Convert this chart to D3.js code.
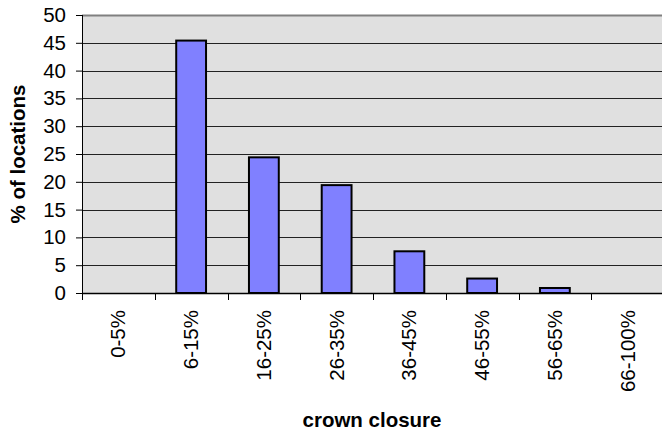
<!DOCTYPE html>
<meta charset="utf-8">
<html>
<body style="margin:0; background-color: white;">
<script src="https://d3js.org/d3.v7.min.js"></script>
<div id="chart"></div>
<script>
// data
var categories = ["0-5%", "6-15%", "16-25%", "26-35%", "36-45%", "46-55%", "56-65%", "66-100%"];
var values = [0, 45.4, 24.4, 19.4, 7.5, 2.6, 0.9, 0];
var yTicks = [0, 5, 10, 15, 20, 25, 30, 35, 40, 45, 50];

var margin = {top: 15, right: -2, bottom: 137, left: 82},
    width = 662 - margin.left - margin.right,
    height = 430 - margin.top - margin.bottom;

var font = "Liberation Sans, Arial, sans-serif";

var svg = d3.select("#chart").append("svg")
    .attr("width", 662).attr("height", 430)
    .style("font-family", font);

var g = svg.append("g")
    .attr("transform", "translate(" + margin.left + "," + margin.top + ")");

var x = d3.scaleBand().domain(categories).range([0, width]).paddingInner(0.59).paddingOuter(0.295);
var xb = d3.scaleBand().domain(categories).range([0, width]);
var y = d3.scaleLinear().domain([0, 50]).range([height, 0]);

// plot background
g.append("rect")
    .attr("width", width).attr("height", height)
    .attr("fill", "#e0e0e0");

// top border
g.append("line")
    .attr("x1", 0).attr("x2", width).attr("y1", 0.5).attr("y2", 0.5)
    .attr("stroke", "#808080").attr("stroke-width", 2);

// gridlines
g.selectAll(".grid")
    .data(yTicks.filter(function(d){ return d > 0 && d < 50; }))
    .enter().append("line")
    .attr("x1", 0).attr("x2", width)
    .attr("y1", function(d){ return Math.round(y(d)) + 0.5; })
    .attr("y2", function(d){ return Math.round(y(d)) + 0.5; })
    .attr("stroke", "#222").attr("stroke-width", 1);

// bars
g.selectAll(".bar")
    .data(values)
    .enter().append("rect")
    .attr("x", function(d, i){ return x(categories[i]); })
    .attr("width", x.bandwidth())
    .attr("y", function(d){ return y(d); })
    .attr("height", function(d){ return height - y(d); })
    .attr("fill", "#8080ff")
    .attr("stroke", "black")
    .attr("stroke-width", 2);

// y axis
var yAxis = g.append("g")
    .call(d3.axisLeft(y).tickValues(yTicks).tickSize(6).tickPadding(10));
yAxis.select(".domain").attr("stroke", "black").attr("d", "M0.5,0V" + (height + 6));
yAxis.selectAll("text").attr("font-size", "20.5px").attr("fill", "black").attr("font-family", font);
yAxis.selectAll("line").attr("stroke", "black");

// x axis line + boundary ticks
g.append("line")
    .attr("x1", 0).attr("x2", width).attr("y1", height + 0.5).attr("y2", height + 0.5)
    .attr("stroke", "black").attr("stroke-width", 1.5);
g.selectAll(".xtick")
    .data(categories)
    .enter().append("line")
    .attr("x1", function(d){ return Math.round(xb(d)) + 0.5; })
    .attr("x2", function(d){ return Math.round(xb(d)) + 0.5; })
    .attr("y1", height).attr("y2", height + 7)
    .attr("stroke", "black");

// x tick labels, rotated
g.selectAll(".xlab")
    .data(categories)
    .enter().append("text")
    .attr("transform", function(d){
        return "translate(" + (xb(d) + xb.bandwidth() / 2 + 7) + "," + (height + 17) + ") rotate(-90)";
    })
    .attr("text-anchor", "end")
    .attr("font-size", "20.5px")
    .text(function(d){ return d; });

// axis titles
svg.append("text")
    .attr("x", 372).attr("y", 427)
    .attr("text-anchor", "middle")
    .attr("font-size", "20.5px").attr("font-weight", "bold")
    .text("crown closure");

svg.append("text")
    .attr("transform", "translate(25," + (margin.top + height / 2) + ") rotate(-90)")
    .attr("text-anchor", "middle")
    .attr("font-size", "20.5px").attr("font-weight", "bold")
    .text("% of locations");
</script>
</body>
</html>
